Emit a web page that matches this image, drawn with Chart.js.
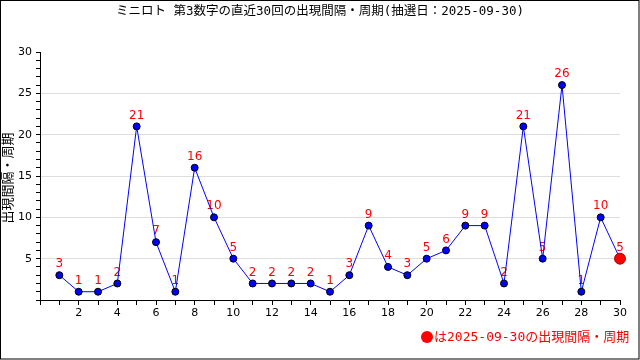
<!DOCTYPE html>
<html><head><meta charset="utf-8">
<script src="https://cdn.jsdelivr.net/npm/chart.js@4/dist/chart.umd.min.js"></script>
<style>html,body{margin:0;padding:0;background:#fff}#wrap{width:640px;height:360px}</style>
</head><body><div id="wrap"><canvas id="c" width="640" height="360"></canvas></div>
<script>
const title = "ミニロト 第3数字の直近30回の出現間隔・周期(抽選日：2025-09-30)";
const yTitle = "出現間隔・周期";
const legendText = "は2025-09-30の出現間隔・周期";
const draws = [1,2,3,4,5,6,7,8,9,10,11,12,13,14,15,16,17,18,19,20,21,22,23,24,25,26,27,28,29,30];
const intervals = [3,1,1,2,21,7,1,16,10,5,2,2,2,2,1,3,9,4,3,5,6,9,9,2,21,5,26,1,10,5];
const FONT = "'DejaVu Sans Mono','Noto Sans CJK JP',monospace";
const SANS = "'DejaVu Sans','Noto Sans CJK JP',sans-serif";
const last = intervals.length - 1;

const deco = {
  id: 'deco',
  beforeDatasetsDraw(chart) {
    const ctx = chart.ctx;
    const meta = chart.getDatasetMeta(0);
    ctx.save();
    ctx.fillStyle = '#ff0000';
    ctx.font = "12px " + SANS;
    ctx.textAlign = 'center';
    ctx.textBaseline = 'bottom';
    meta.data.forEach((p, i) => {
      ctx.fillText(String(intervals[i]), p.x, p.y - 5);
    });
    ctx.restore();
  },
  afterDraw(chart) {
    const ctx = chart.ctx;
    ctx.save();
    ctx.fillStyle = '#000';
    ctx.font = "12.5px " + FONT;
    ctx.textAlign = 'center';
    ctx.textBaseline = 'middle';
    ctx.fillText(title, 320, 12);
    ctx.translate(9, 178);
    ctx.rotate(-Math.PI / 2);
    ctx.font = "13px " + SANS;
    ctx.fillText(yTitle, 0, 0);
    ctx.restore();
    ctx.save();
    ctx.fillStyle = '#ff0000';
    ctx.beginPath();
    ctx.arc(427, 337, 6, 0, Math.PI * 2);
    ctx.fill();
    ctx.font = "13px " + FONT;
    ctx.textAlign = 'left';
    ctx.textBaseline = 'middle';
    ctx.fillText(legendText, 434, 338);
    ctx.strokeStyle = '#000';
    ctx.lineWidth = 1;
    ctx.strokeRect(0.5, 0.5, 638.5, 358.5);
    ctx.restore();
  }
};

new Chart(document.getElementById('c'), {
  type: 'line',
  data: {
    datasets: [{
      data: draws.map((d, i) => ({x: d, y: intervals[i]})),
      borderColor: '#0000ff',
      borderWidth: 1,
      clip: false,
      pointBackgroundColor: intervals.map((v, i) => i === last ? '#ff0000' : '#0000ff'),
      pointBorderColor: intervals.map((v, i) => i === last ? '#aa0000' : '#000'),
      pointBorderWidth: 1,
      pointRadius: intervals.map((v, i) => i === last ? 5.5 : 3.5),
      tension: 0
    }]
  },
  options: {
    responsive: false,
    animation: false,
    layout: {padding: {top: 52, right: 20, left: 0, bottom: 0}},
    plugins: {legend: {display: false}, tooltip: {enabled: false}},
    scales: {
      x: {
        type: 'linear', min: 0, max: 30,
        border: {color: '#000', width: 1},
        grid: {drawOnChartArea: false, tickLength: 5, tickColor: '#000'},
        ticks: {
          stepSize: 1, autoSkip: false, maxRotation: 0, color: '#000',
          font: {family: SANS, size: 11}, padding: 2,
          callback: v => (v > 0 && v % 2 === 0) ? String(v) : ''
        },
        afterFit: s => { s.height = 60; }
      },
      y: {
        min: 0, max: 30,
        border: {color: '#000', width: 1},
        grid: {
          color: c => (c.tick && c.tick.value % 5 === 0 && c.tick.value > 0 && c.tick.value < 30) ? '#dddddd' : 'rgba(0,0,0,0)',
          tickColor: '#000', tickLength: 4, lineWidth: 1
        },
        ticks: {
          stepSize: 1, autoSkip: false, color: '#000',
          font: {family: SANS, size: 11}, padding: 4,
          callback: v => (v > 0 && v % 5 === 0) ? String(v) : ''
        },
        afterFit: s => { s.width = 40; }
      }
    }
  },
  plugins: [deco]
});
</script></body></html>
